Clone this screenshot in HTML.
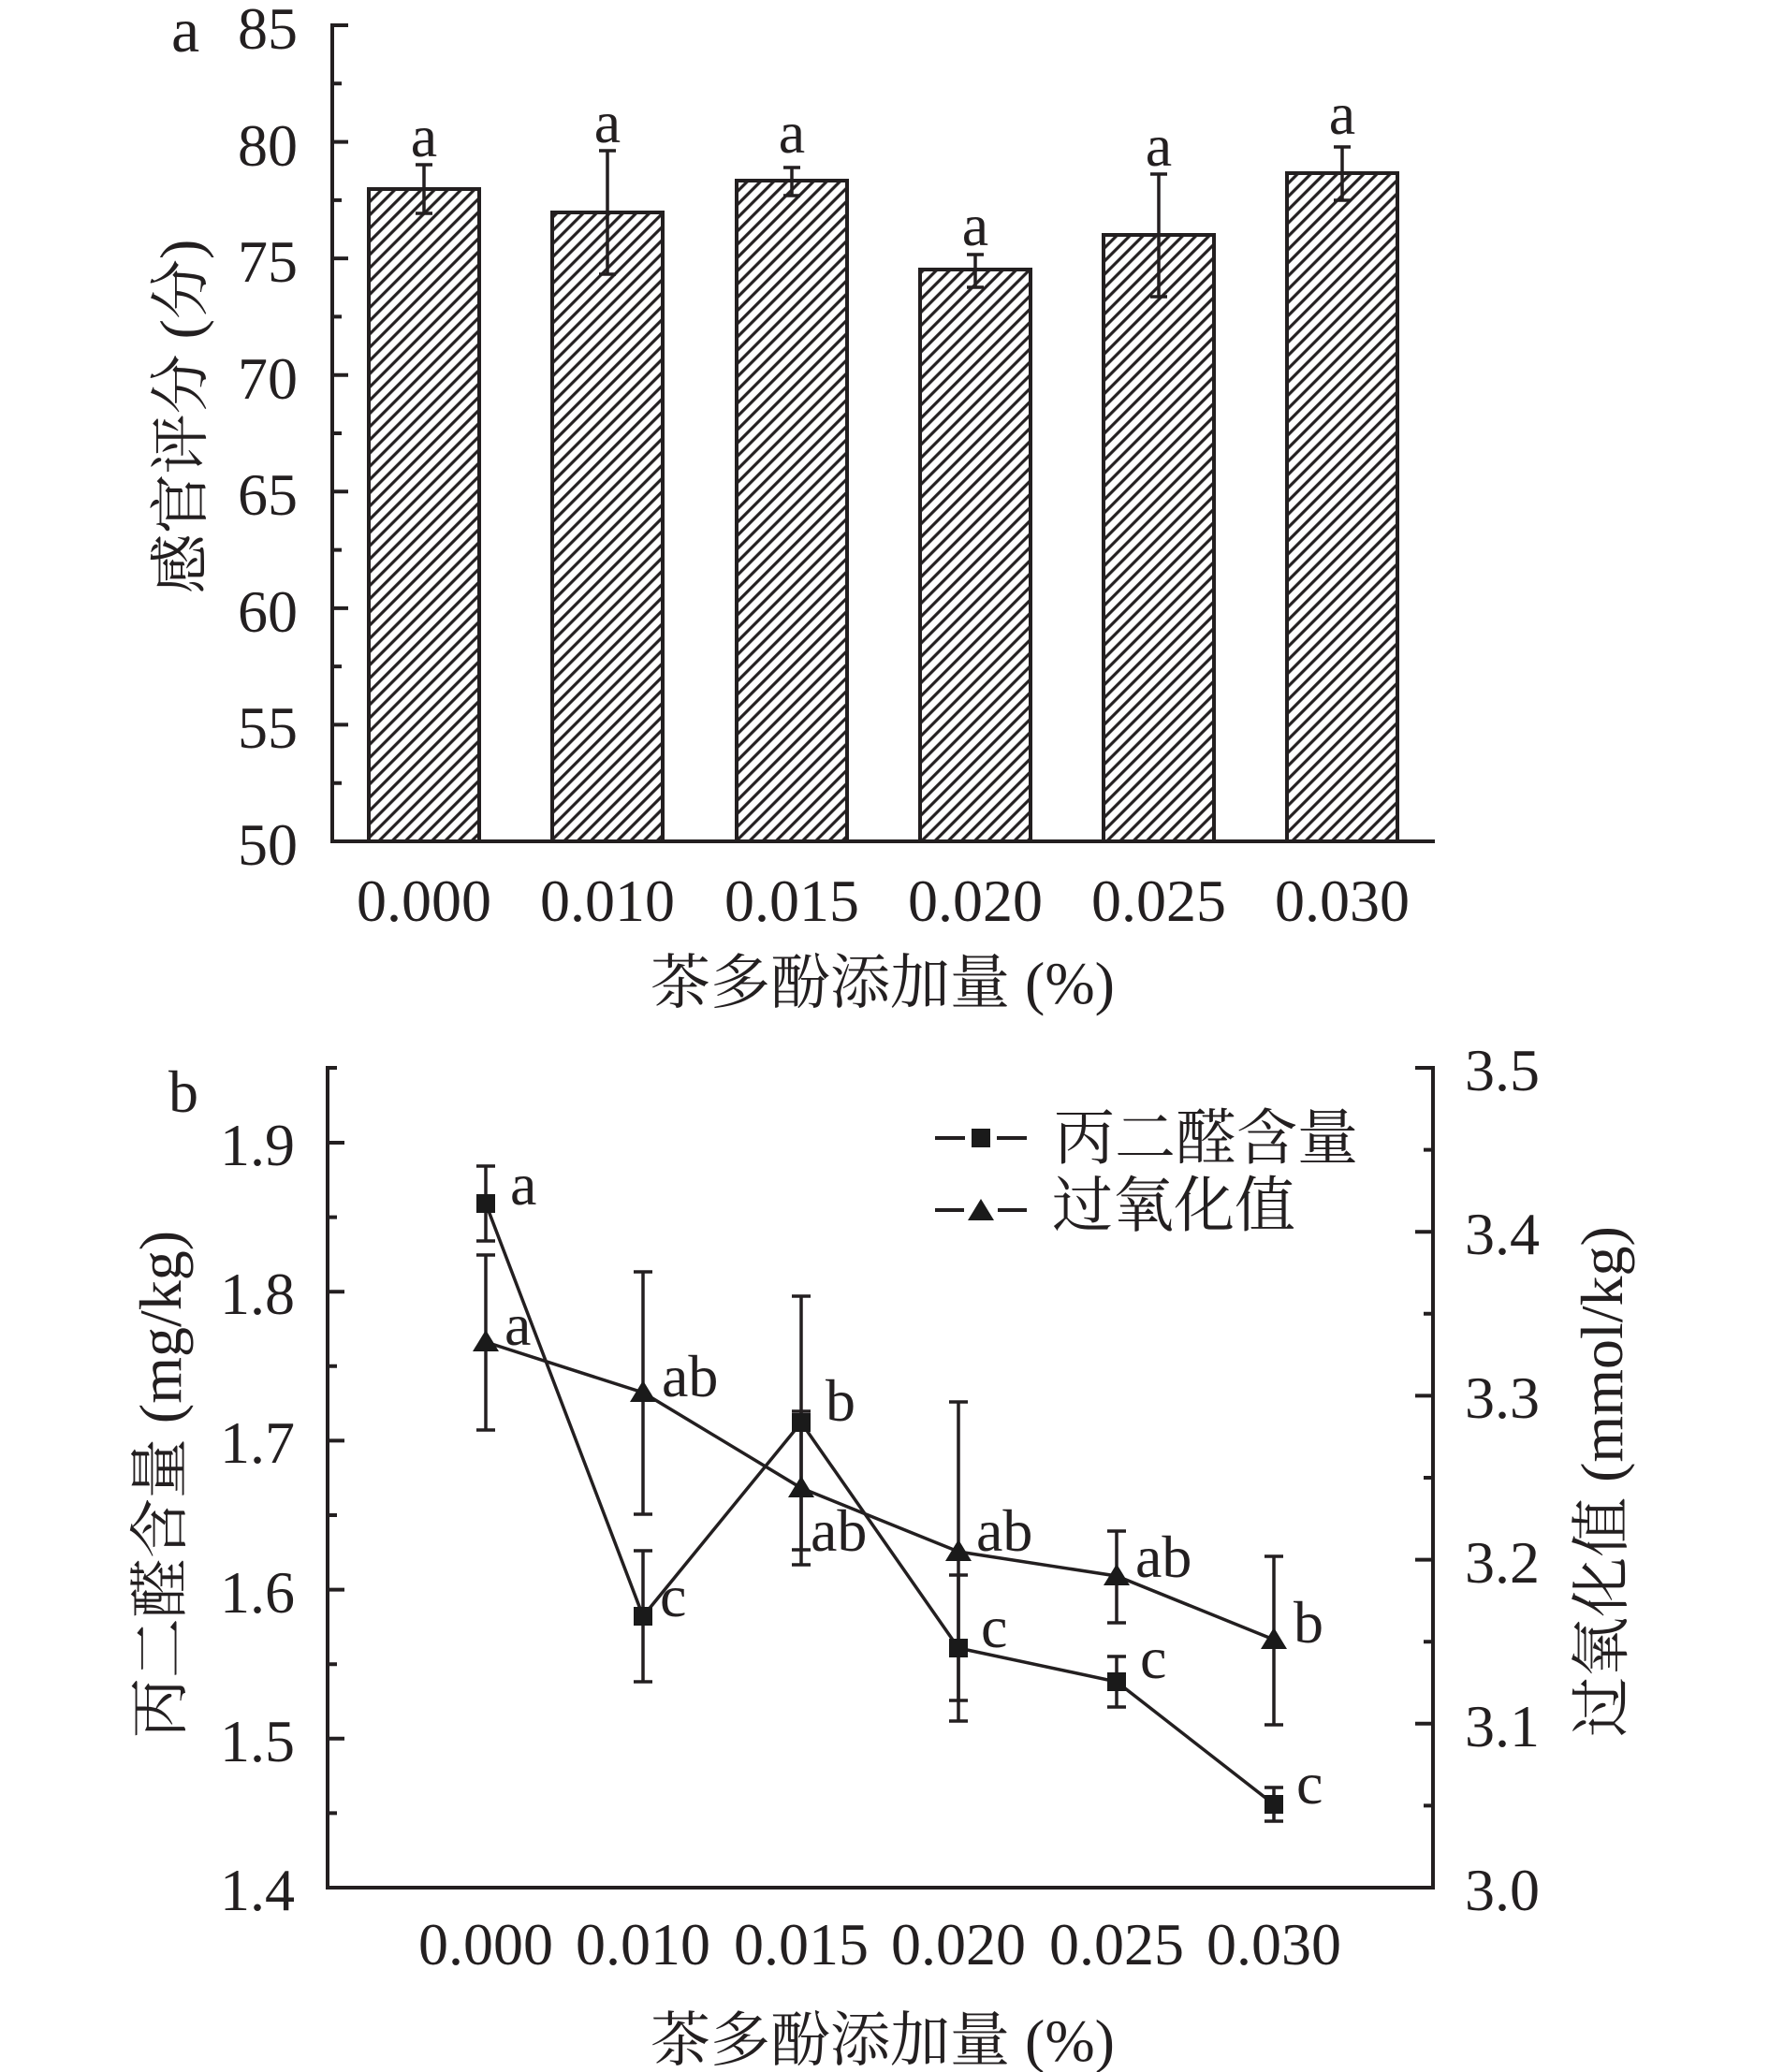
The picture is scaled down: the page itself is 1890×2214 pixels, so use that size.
<!DOCTYPE html>
<html><head><meta charset="utf-8"><style>
html,body{margin:0;padding:0;background:#fff;}
svg{display:block;}
text{font-family:"Liberation Serif","Noto Serif CJK SC",serif;fill:#231f20;}
</style></head><body>
<svg width="1890" height="2214" viewBox="0 0 1890 2214" xmlns="http://www.w3.org/2000/svg">
<defs>
<pattern id="h" patternUnits="userSpaceOnUse" width="10" height="10" patternTransform="rotate(45)">
<rect width="10" height="10" fill="#fff"/>
<line x1="1.7" y1="-1" x2="1.7" y2="11" stroke="#231f20" stroke-width="3.2"/>
</pattern>
</defs>

<!-- ============ Chart a ============ -->
<text x="183" y="55" font-size="68">a</text>
<g font-size="64" text-anchor="end">
<text x="318" y="52">85</text>
<text x="318" y="177">80</text>
<text x="318" y="301">75</text>
<text x="318" y="426">70</text>
<text x="318" y="550">65</text>
<text x="318" y="675">60</text>
<text x="318" y="799">55</text>
<text x="318" y="924">50</text>
</g>
<!-- bars -->
<g stroke="#231f20" stroke-width="4" fill="url(#h)">
<rect x="394" y="202" width="118" height="697"/>
<rect x="590" y="227" width="118" height="672"/>
<rect x="787" y="193" width="118" height="706"/>
<rect x="983" y="288" width="118" height="611"/>
<rect x="1179" y="251" width="118" height="648"/>
<rect x="1375" y="185" width="118" height="714"/>
</g>
<!-- error bars a -->
<g stroke="#231f20" stroke-width="3.5" fill="none">
<path d="M453 176V228M444 176H462M444 228H462"/>
<path d="M649 161V293M640 161H658M640 293H658"/>
<path d="M846 179V209M837 179H855M837 209H855"/>
<path d="M1042 272V307M1033 272H1051M1033 307H1051"/>
<path d="M1238 186V317M1229 186H1247M1229 317H1247"/>
<path d="M1434 157V214M1425 157H1443M1425 214H1443"/>
</g>
<g font-size="64" text-anchor="middle">
<text x="453" y="167">a</text>
<text x="649" y="152">a</text>
<text x="846" y="163">a</text>
<text x="1042" y="262">a</text>
<text x="1238" y="177">a</text>
<text x="1434" y="143">a</text>
</g>
<!-- axes a -->
<g stroke="#231f20" stroke-width="4" fill="none">
<path d="M355 25V901M353 899H1533"/>
<path d="M355 27H372M355 89.3H365M355 151.6H372M355 213.9H365M355 276.1H372M355 338.4H365M355 400.7H372M355 463H365M355 525.3H372M355 587.6H365M355 649.9H372M355 712.1H365M355 774.4H372M355 836.7H365"/>
</g>
<g font-size="64" text-anchor="middle">
<text x="453" y="984">0.000</text>
<text x="649" y="984">0.010</text>
<text x="846" y="984">0.015</text>
<text x="1042" y="984">0.020</text>
<text x="1238" y="984">0.025</text>
<text x="1434" y="984">0.030</text>
</g>
<text x="943" y="1072" font-size="64" text-anchor="middle">茶多酚添加量 (%)</text>
<text transform="translate(215,445) rotate(-90)" font-size="64" text-anchor="middle">感官评分 (分)</text>

<!-- ============ Chart b ============ -->
<text x="180" y="1188" font-size="64">b</text>
<g stroke="#231f20" stroke-width="4" fill="none">
<path d="M350 1139V2019M1531 1139V2019M348 2017H1533"/>
<path d="M350 1141H360M350 1221H368M350 1300.6H360M350 1380.2H368M350 1459.8H360M350 1539.4H368M350 1619H360M350 1698.6H368M350 1778.2H360M350 1857.8H368M350 1937.4H360"/>
<path d="M1531 1141H1512M1531 1228.6H1521M1531 1316.2H1512M1531 1403.8H1521M1531 1491.4H1512M1531 1579H1521M1531 1666.6H1512M1531 1754.2H1521M1531 1841.8H1512M1531 1929.4H1521"/>
</g>
<g font-size="64" text-anchor="end">
<text x="315" y="1245">1.9</text>
<text x="315" y="1404">1.8</text>
<text x="315" y="1563">1.7</text>
<text x="315" y="1723">1.6</text>
<text x="315" y="1882">1.5</text>
<text x="315" y="2041">1.4</text>
</g>
<g font-size="64" text-anchor="start">
<text x="1565" y="1165">3.5</text>
<text x="1565" y="1340">3.4</text>
<text x="1565" y="1515">3.3</text>
<text x="1565" y="1691">3.2</text>
<text x="1565" y="1866">3.1</text>
<text x="1565" y="2041">3.0</text>
</g>
<g font-size="64" text-anchor="middle">
<text x="519" y="2099">0.000</text>
<text x="687" y="2099">0.010</text>
<text x="856" y="2099">0.015</text>
<text x="1024" y="2099">0.020</text>
<text x="1193" y="2099">0.025</text>
<text x="1361" y="2099">0.030</text>
</g>
<text x="943" y="2202" font-size="64" text-anchor="middle">茶多酚添加量 (%)</text>
<text transform="translate(193,1586) rotate(-90)" font-size="64" text-anchor="middle">丙二醛含量 (mg/kg)</text>
<text transform="translate(1733,1583) rotate(-90)" font-size="64" text-anchor="middle">过氧化值 (mmol/kg)</text>

<!-- error bars b -->
<g stroke="#231f20" stroke-width="3.5" fill="none">
<path d="M519 1246V1326M509 1246H529M509 1326H529"/>
<path d="M687 1657V1797M677 1657H697M677 1797H697"/>
<path d="M856 1385V1656M846 1385H866M846 1656H866"/>
<path d="M1024 1683V1839M1014 1683H1034M1014 1839H1034"/>
<path d="M1193 1770V1824M1183 1770H1203M1183 1824H1203"/>
<path d="M1361 1910V1946M1351 1910H1371M1351 1946H1371"/>
<path d="M519 1341V1528M509 1341H529M509 1528H529"/>
<path d="M687 1359V1618M677 1359H697M677 1618H697"/>
<path d="M856 1508V1672M846 1508H866M846 1672H866"/>
<path d="M1024 1498V1817M1014 1498H1034M1014 1817H1034"/>
<path d="M1193 1636V1734M1183 1636H1203M1183 1734H1203"/>
<path d="M1361 1663V1843M1351 1663H1371M1351 1843H1371"/>
</g>
<g stroke="#231f20" stroke-width="3.5" fill="none">
<polyline points="519,1286 687,1727 856,1520 1024,1761 1193,1797 1361,1928"/>
<polyline points="519,1434 687,1488 856,1590 1024,1658 1193,1684 1361,1752"/>
</g>
<g fill="#1a1a1a">
<rect x="509" y="1276" width="20" height="20"/>
<rect x="677" y="1717" width="20" height="20"/>
<rect x="846" y="1510" width="20" height="20"/>
<rect x="1014" y="1751" width="20" height="20"/>
<rect x="1183" y="1787" width="20" height="20"/>
<rect x="1351" y="1918" width="20" height="20"/>
<polygon points="519,1421 505,1444 533,1444"/>
<polygon points="687,1475 673,1498 701,1498"/>
<polygon points="856,1577 842,1600 870,1600"/>
<polygon points="1024,1645 1010,1668 1038,1668"/>
<polygon points="1193,1671 1179,1694 1207,1694"/>
<polygon points="1361,1739 1347,1762 1375,1762"/>
</g>
<g font-size="64">
<text x="545" y="1287">a</text>
<text x="539" y="1437">a</text>
<text x="707" y="1492">ab</text>
<text x="882" y="1518">b</text>
<text x="866" y="1657">ab</text>
<text x="705" y="1727">c</text>
<text x="1043" y="1657">ab</text>
<text x="1048" y="1760">c</text>
<text x="1213" y="1685">ab</text>
<text x="1218" y="1793">c</text>
<text x="1382" y="1755">b</text>
<text x="1385" y="1927">c</text>
</g>
<g stroke="#231f20" stroke-width="4" fill="none">
<path d="M999 1216H1031M1065 1216H1097M999 1293H1030M1066 1293H1097"/>
</g>
<rect x="1038" y="1206" width="20" height="20" fill="#1a1a1a"/>
<polygon points="1048,1281 1034,1304 1062,1304" fill="#1a1a1a"/>
<text x="1126" y="1238" font-size="65">丙二醛含量</text>
<text x="1124" y="1310" font-size="65">过氧化值</text>
</svg>
</body></html>
